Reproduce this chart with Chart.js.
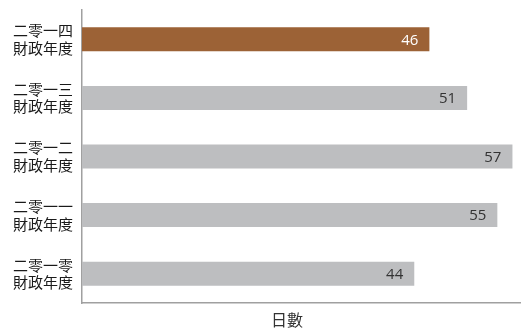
<!DOCTYPE html>
<html>
<head>
<meta charset="utf-8">
<script src="https://cdn.jsdelivr.net/npm/chart.js@4/dist/chart.umd.min.js"></script>
<style>
html,body{margin:0;padding:0;background:#fff;}
canvas{display:block;}
</style>
</head>
<body>
<canvas id="c" width="521" height="331"></canvas>
<script>
const categories = [["二零一四","財政年度"],["二零一三","財政年度"],["二零一二","財政年度"],["二零一一","財政年度"],["二零一零","財政年度"]];
const values = [46, 51, 57, 55, 44];
const barColors = ["#9C6236", "#BDBEC0", "#BDBEC0", "#BDBEC0", "#BDBEC0"];
const labelColors = ["#FFFFFF", "#333333", "#333333", "#333333", "#333333"];
const xTitle = "日數";

const valueLabels = {
  id: 'valueLabels',
  afterDatasetsDraw(chart) {
    const ctx = chart.ctx;
    const meta = chart.getDatasetMeta(0);
    ctx.save();
    ctx.font = '15px "Open Sans", "Noto Sans", sans-serif';
    ctx.textAlign = 'right';
    ctx.textBaseline = 'middle';
    meta.data.forEach((bar, i) => {
      ctx.fillStyle = labelColors[i];
      ctx.fillText(String(values[i]), bar.x - 11, bar.y + 1);
    });
    ctx.restore();
  }
};
const axisTitle = {
  id: 'axisTitle',
  afterDraw(chart) {
    const ctx = chart.ctx;
    const a = chart.chartArea;
    ctx.save();
    ctx.font = '16px "Noto Sans CJK TC", sans-serif';
    ctx.fillStyle = '#333333';
    ctx.textAlign = 'center';
    ctx.textBaseline = 'middle';
    ctx.fillText(xTitle, a.left + (a.right - a.left) * 0.468, 320);
    ctx.restore();
  }
};

new Chart(document.getElementById('c'), {
  type: 'bar',
  data: {
    labels: categories,
    datasets: [{
      data: values,
      backgroundColor: barColors,
      borderWidth: 0,
      categoryPercentage: 1,
      barPercentage: 0.41
    }]
  },
  options: {
    indexAxis: 'y',
    responsive: false,
    animation: false,
    layout: { padding: { top: 10, right: 1, left: 0, bottom: 0 } },
    plugins: { legend: { display: false }, tooltip: { enabled: false } },
    scales: {
      x: {
        min: 0, max: 58,
        grid: { display: false, drawTicks: false },
        border: { display: true, color: '#A0A0A0', width: 1.5 },
        ticks: { display: false },
        afterFit(s) { s.height = 28; s.paddingLeft = 0; s.paddingRight = 0; }
      },
      y: {
        grid: { display: false, drawTicks: false },
        border: { display: true, color: '#A0A0A0', width: 1.5 },
        ticks: {
          color: '#1a1a1a',
          padding: 9,
          font: { size: 15, family: '"Noto Sans CJK TC", sans-serif', lineHeight: 1.17 }
        },
        afterFit(s) { s.width = 82; s.paddingTop = 0; s.paddingBottom = 0; }
      }
    }
  },
  plugins: [valueLabels, axisTitle]
});
</script>
</body>
</html>
